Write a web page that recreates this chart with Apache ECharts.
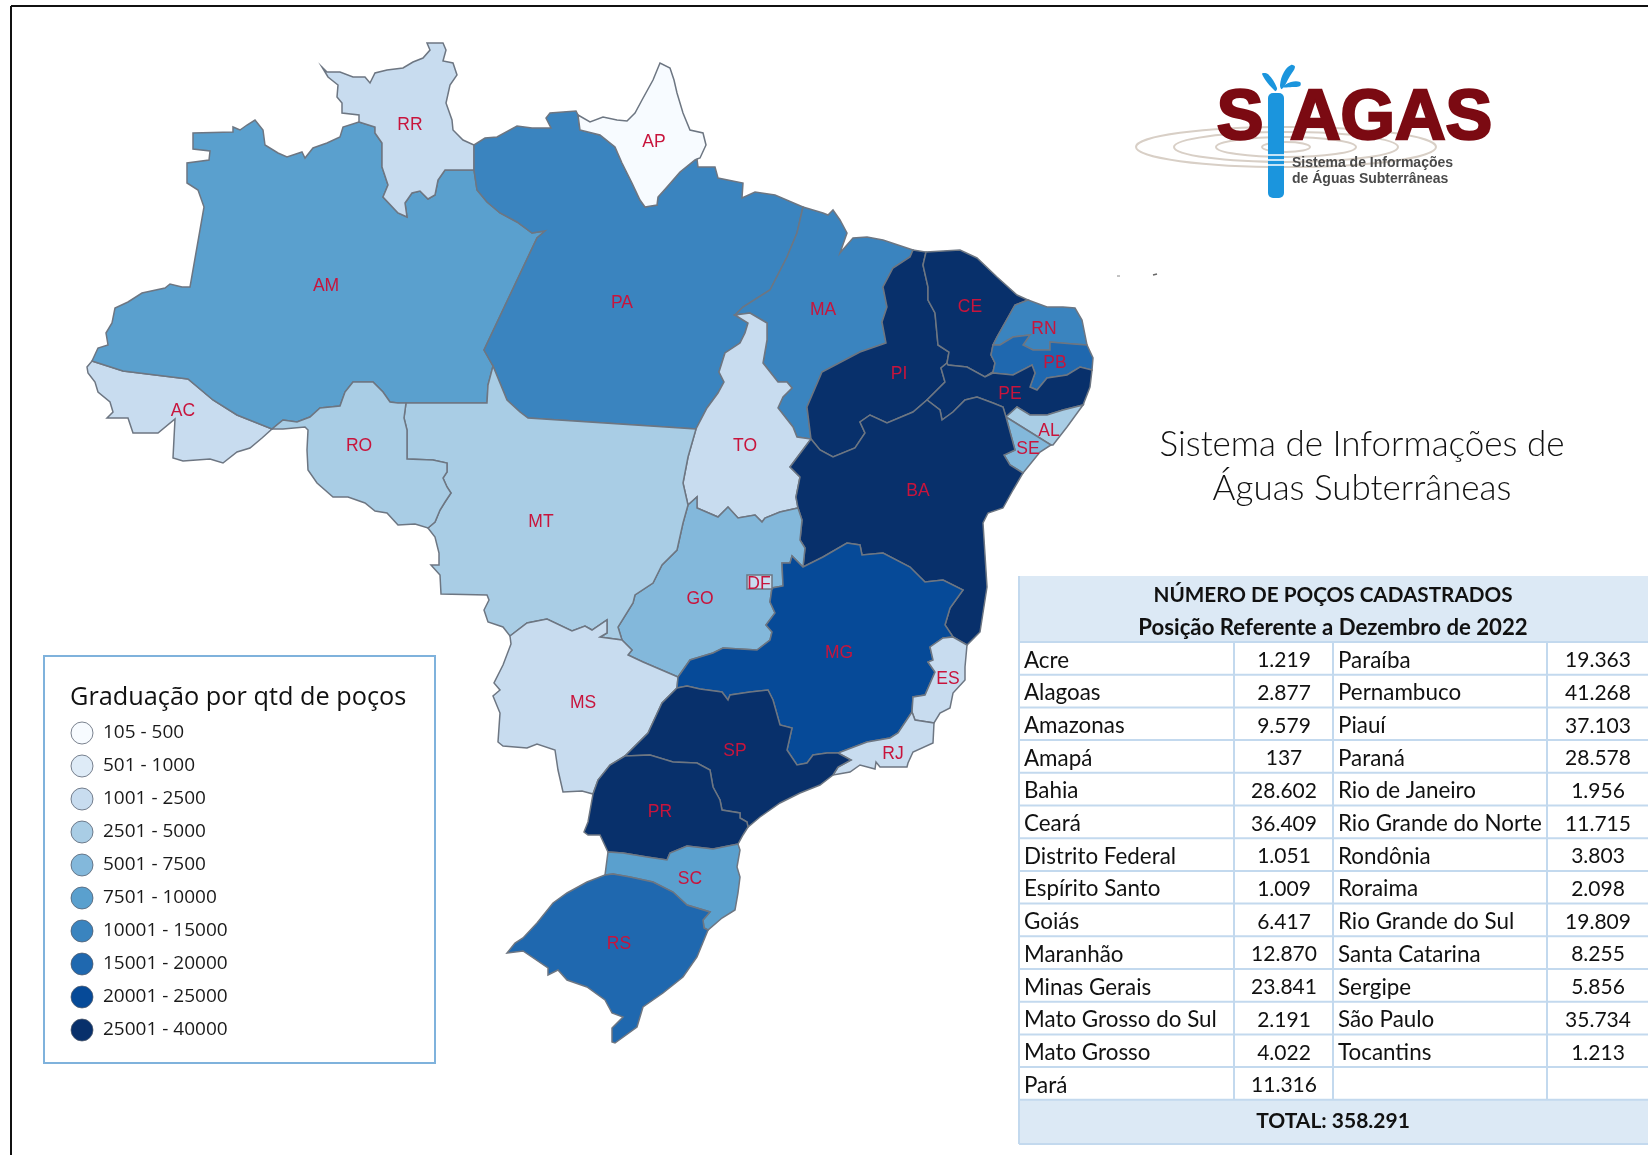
<!DOCTYPE html>
<html lang="pt-BR">
<head>
<meta charset="utf-8">
<title>Sistema de Informações de Águas Subterrâneas</title>
<script src="https://cdn.jsdelivr.net/npm/echarts@6/dist/echarts.min.js"></script>
<style>
  html, body { margin: 0; padding: 0; background: #fff; }
  #chart { width: 1648px; height: 1155px; }
</style>
</head>
<body>
<div id="chart"></div>
<script>
// table order, same as the picture
const stateNames = ['Acre', 'Alagoas', 'Amazonas', 'Amapá', 'Bahia', 'Ceará', 'Distrito Federal', 'Espírito Santo', 'Goiás', 'Maranhão', 'Minas Gerais', 'Mato Grosso do Sul', 'Mato Grosso', 'Pará',
  'Paraíba', 'Pernambuco', 'Piauí', 'Paraná', 'Rio de Janeiro', 'Rio Grande do Norte', 'Rondônia', 'Roraima', 'Rio Grande do Sul', 'Santa Catarina', 'Sergipe', 'São Paulo', 'Tocantins']
const stateCodes = ['AC', 'AL', 'AM', 'AP', 'BA', 'CE', 'DF', 'ES', 'GO', 'MA', 'MG', 'MS', 'MT', 'PA',
  'PB', 'PE', 'PI', 'PR', 'RJ', 'RN', 'RO', 'RR', 'RS', 'SC', 'SE', 'SP', 'TO']
const wellCounts = [1219, 2877, 9579, 137, 28602, 36409, 1051, 1009, 6417, 12870, 23841, 2191, 4022, 11316,
  19363, 41268, 37103, 28578, 1956, 11715, 3803, 2098, 19809, 8255, 5856, 35734, 1213]
const totalLabel = 'TOTAL: 358.291'

// legend classes
const classLabels = ['105 - 500', '501 - 1000', '1001 - 2500', '2501 - 5000', '5001 - 7500', '7501 - 10000', '10001 - 15000', '15001 - 20000', '20001 - 25000', '25001 - 40000']
const classMins = [105, 501, 1001, 2501, 5001, 7501, 10001, 15001, 20001, 25001]
const classMaxs = [500, 1000, 2500, 5000, 7500, 10000, 15000, 20000, 25000, Infinity] // PE passes 40000 and is still drawn dark
const classColors = ['#f7fbff', '#deebf7', '#c8dcef', '#a9cde5', '#83b8db', '#5aa0ce', '#3a84bf', '#1f68af', '#064a98', '#08306b']

// state borders, in page pixels. Each one is shared by its two neighbours
const borders = {
  ac_am: [[92,361],[123,371],[188,379],[213,400],[237,415],[272,429]],
  ac_out: [[92,361],[87,367],[88,373],[95,382],[98,392],[110,402],[113,412],[107,418],[128,418],[133,433],[158,433],[175,419],[173,458],[183,461],[210,459],[223,463],[237,452],[250,448],[262,438],[272,429]],
  am_north: [[359,122],[343,127],[340,137],[327,143],[313,148],[305,158],[302,152],[287,157],[278,153],[265,145],[263,130],[255,120],[247,125],[240,130],[233,127],[233,132],[193,133],[193,149],[210,151],[209,160],[187,163],[187,183],[198,190],[204,207],[190,287],[182,287],[170,284],[165,288],[142,293],[128,302],[115,308],[112,323],[106,333],[108,345],[98,348],[92,361]],
  am_ro: [[272,429],[283,420],[297,422],[310,417],[320,408],[340,406],[345,392],[353,382],[373,382],[383,392],[390,402],[398,403],[406,403]],
  am_mt: [[406,403],[487,403],[488,385],[493,366]],
  am_pa: [[493,366],[484,350],[537,238],[545,231],[532,233],[517,222],[500,213],[487,202],[477,190],[474,170]],
  am_rr: [[474,170],[445,170],[438,180],[435,195],[428,199],[420,191],[412,193],[405,203],[407,217],[398,213],[383,197],[388,185],[382,167],[382,143],[375,133],[375,127],[359,122]],
  rr_out: [[359,122],[359,115],[342,113],[342,103],[337,97],[338,85],[328,77],[322,67],[327,72],[340,72],[353,77],[365,77],[370,83],[375,73],[387,70],[403,68],[413,62],[423,58],[430,50],[427,43],[443,43],[446,50],[443,61],[453,63],[457,75],[450,85],[446,103],[452,120],[453,130],[463,140],[474,145]],
  rr_pa: [[474,145],[474,170]],
  pa_north: [[474,145],[485,138],[497,137],[517,126],[532,128],[551,128],[546,118],[550,113],[576,111],[578,115]],
  ap_pa: [[578,115],[580,130],[600,135],[615,147],[622,163],[632,183],[640,200],[645,207],[657,205],[658,197],[667,187],[680,172],[695,160],[697,159]],
  ap_out: [[578,115],[590,122],[603,117],[617,120],[627,121],[635,113],[642,100],[653,80],[660,63],[670,68],[674,80],[677,93],[683,113],[690,130],[703,133],[706,145],[700,158],[697,159]],
  pa_coast: [[697,159],[698,167],[715,167],[718,178],[743,183],[742,198],[755,192],[775,195],[803,207]],
  pa_ma: [[803,207],[797,233],[787,257],[770,290],[743,307],[735,315]],
  pa_to: [[735,315],[748,323],[745,333],[740,343],[725,353],[719,372],[724,382],[718,393],[707,408],[696,429]],
  pa_mt: [[696,429],[528,418],[520,412],[507,400],[493,366]],
  ma_coast: [[803,207],[823,213],[828,215],[833,210],[840,220],[847,233],[840,253],[853,238],[867,237],[883,240],[913,250]],
  ma_pi: [[913,250],[910,257],[893,268],[883,287],[887,307],[882,322],[886,343],[860,352],[822,372],[807,407],[811,439]],
  ma_to: [[811,439],[797,437],[793,427],[778,408],[783,397],[792,388],[787,382],[778,382],[763,363],[767,340],[767,323],[750,313],[735,315]],
  to_mt: [[696,429],[688,457],[683,483],[688,505]],
  go_to: [[688,505],[697,497],[697,508],[718,517],[728,507],[738,518],[755,515],[762,522],[765,518],[780,512],[798,508]],
  to_ba: [[798,508],[796,497],[800,477],[790,467],[811,439]],
  pi_coast: [[913,250],[926,252]],
  pi_ce: [[926,252],[923,265],[928,287],[928,300],[935,313],[938,345],[949,352],[947,363]],
  pi_pe: [[947,363],[941,368],[945,382],[927,400]],
  ba_pi: [[927,400],[913,412],[887,423],[870,415],[860,422],[865,433],[855,448],[833,457],[820,450],[811,439]],
  ce_coast: [[926,252],[960,250],[977,258],[997,277],[1017,295],[1028,300]],
  ce_rn: [[1028,300],[1015,305],[997,337],[993,345]],
  ce_pb: [[993,345],[991,355],[995,363],[993,372],[985,377]],
  ce_pe: [[985,377],[967,367],[948,365],[947,363]],
  rn_coast: [[1028,300],[1047,307],[1063,307],[1075,308],[1082,320],[1087,345]],
  rn_pb: [[1087,345],[1073,344],[1050,342],[1050,350],[1033,350],[1023,345],[1030,335],[1013,337],[1000,345],[993,345]],
  pb_coast: [[1087,345],[1093,358],[1092,370]],
  pb_pe: [[1092,370],[1080,367],[1067,375],[1047,378],[1037,390],[1030,387],[1035,373],[1032,365],[1013,375],[993,373],[985,377]],
  pe_coast: [[1092,370],[1090,387],[1083,405]],
  pe_al: [[1083,405],[1063,410],[1047,415],[1030,415],[1017,407],[1006,417]],
  pe_ba: [[1006,417],[1003,407],[993,403],[977,397],[965,400],[953,412],[942,420],[940,410],[927,400]],
  al_coast: [[1083,405],[1067,427],[1053,445],[1051,445]],
  al_se: [[1006,417],[1051,445]],
  se_coast: [[1051,445],[1040,452],[1023,473]],
  se_ba: [[1023,473],[1010,465],[1004,455],[1015,450],[1006,417]],
  ba_coast: [[1023,473],[1013,490],[1003,508],[988,513],[983,523],[987,587],[980,632],[967,645]],
  ba_es: [[967,645],[953,637]],
  ba_mg: [[953,637],[945,625],[950,608],[963,590],[943,580],[925,582],[910,567],[883,553],[862,555],[860,545],[847,543],[823,557],[803,567]],
  ba_go: [[803,567],[805,548],[800,540],[802,520],[798,508]],
  go_mg: [[678,677],[690,660],[713,653],[723,648],[757,650],[770,640],[772,632],[766,625],[775,613],[770,602],[772,588],[783,586],[782,563],[790,563],[792,556],[803,567]],
  go_ms: [[678,677],[643,662],[628,655],[632,650],[622,640]],
  go_mt: [[622,640],[618,627],[633,603],[635,595],[653,583],[662,565],[677,550],[683,523],[688,505]],
  mt_ms: [[622,640],[600,637],[607,633],[607,620],[592,630],[585,626],[572,631],[547,619],[527,623],[510,636]],
  mt_west: [[510,636],[503,627],[488,622],[484,610],[489,600],[487,595],[441,594],[440,575],[431,565],[439,565],[439,553],[435,537],[428,528]],
  ro_mt: [[406,403],[404,418],[407,430],[407,459],[433,460],[447,463],[447,472],[443,478],[447,487],[451,493],[445,502],[440,510],[435,522],[428,528]],
  ro_south: [[428,528],[415,524],[398,525],[387,513],[375,511],[365,503],[348,497],[333,497],[317,483],[308,470],[307,450],[308,430],[305,427],[283,429],[272,429]],
  mg_ms: [[678,677],[677,688]],
  sp_ms: [[677,688],[662,703],[648,733],[625,756]],
  ms_pr: [[625,756],[610,765],[598,780],[593,794]],
  ms_west: [[593,794],[582,791],[563,792],[558,770],[555,750],[537,744],[527,748],[503,746],[498,742],[500,713],[493,696],[500,690],[494,683],[503,665],[511,644],[510,636]],
  mg_es: [[953,637],[943,638],[930,647],[933,660],[928,662],[935,672],[925,695],[913,697],[912,712]],
  mg_rj: [[912,712],[898,733],[890,738],[867,742],[838,753]],
  mg_sp: [[838,753],[827,753],[813,755],[807,763],[797,765],[787,750],[792,728],[780,725],[773,700],[768,690],[750,692],[730,695],[728,700],[722,692],[700,689],[687,686],[677,688]],
  es_coast: [[967,645],[965,667],[965,680],[953,693],[950,708],[940,713],[934,723]],
  es_rj: [[912,712],[915,720],[934,723]],
  rj_coast: [[934,723],[933,743],[913,752],[908,763],[907,767],[880,767],[876,762],[875,769],[860,765],[850,772],[833,775]],
  rj_sp: [[833,775],[838,767],[851,760],[838,753]],
  sp_coast: [[833,775],[820,785],[800,793],[780,803],[760,817],[748,827]],
  sp_pr: [[748,827],[747,822],[740,818],[740,813],[722,810],[720,800],[713,787],[710,770],[697,763],[673,762],[650,755],[625,756]],
  pr_coast: [[748,827],[743,835],[738,844]],
  pr_sc: [[738,844],[713,849],[687,846],[670,853],[667,860],[647,857],[623,853],[608,852]],
  pr_west: [[608,852],[600,835],[588,835],[584,832],[588,822],[593,794]],
  sc_coast: [[738,844],[740,850],[737,867],[740,877],[738,893],[735,910],[722,918],[708,930]],
  sc_rs: [[708,930],[704,928],[703,920],[710,912],[687,905],[673,892],[653,882],[630,877],[613,874],[605,875]],
  sc_west: [[605,875],[608,852]],
  rs_out: [[708,930],[697,957],[683,977],[663,993],[643,1007],[637,1027],[615,1043],[612,1042],[612,1028],[623,1017],[612,1013],[605,1000],[587,987],[567,980],[558,970],[548,975],[548,968],[523,951],[507,953],[515,943],[523,938],[537,923],[553,903],[567,893],[587,882],[605,875]],
  df: [[747,575],[772,575],[772,589],[747,589],[747,575]]
}

// '-' walks a border backwards
const stateRings = {
  AC: ['ac_am', '-ac_out'],
  AM: ['am_north', 'ac_am', 'am_ro', 'am_mt', 'am_pa', 'am_rr'],
  RR: ['rr_out', 'rr_pa', 'am_rr'],
  PA: ['pa_north', 'ap_pa', 'pa_coast', 'pa_ma', 'pa_to', 'pa_mt', 'am_pa', '-rr_pa'],
  AP: ['ap_out', '-ap_pa'],
  MA: ['ma_coast', 'ma_pi', 'ma_to', '-pa_ma'],
  TO: ['pa_to', 'to_mt', 'go_to', 'to_ba', 'ma_to'],
  PI: ['pi_coast', 'pi_ce', 'pi_pe', 'ba_pi', '-ma_pi'],
  CE: ['ce_coast', 'ce_rn', 'ce_pb', 'ce_pe', '-pi_ce'],
  RN: ['rn_coast', 'rn_pb', '-ce_rn'],
  PB: ['-rn_pb', 'pb_coast', 'pb_pe', '-ce_pb'],
  PE: ['-ce_pe', '-pb_pe', 'pe_coast', 'pe_al', 'pe_ba', '-pi_pe'],
  AL: ['al_coast', '-al_se', '-pe_al'],
  SE: ['al_se', 'se_coast', 'se_ba'],
  BA: ['-pe_ba', '-se_ba', 'ba_coast', 'ba_es', 'ba_mg', 'ba_go', 'to_ba', '-ba_pi'],
  GO: ['go_to', '-ba_go', '-go_mg', 'go_ms', 'go_mt'],
  MT: ['am_mt', '-pa_mt', 'to_mt', '-go_mt', 'mt_ms', 'mt_west', '-ro_mt'],
  RO: ['am_ro', 'ro_mt', 'ro_south'],
  MS: ['-go_ms', 'mg_ms', 'sp_ms', 'ms_pr', 'ms_west', '-mt_ms'],
  MG: ['-ba_mg', 'mg_es', 'mg_rj', 'mg_sp', '-mg_ms', 'go_mg'],
  ES: ['-ba_es', 'es_coast', '-es_rj', '-mg_es'],
  RJ: ['es_rj', 'rj_coast', 'rj_sp', '-mg_rj'],
  SP: ['-rj_sp', 'sp_coast', 'sp_pr', '-sp_ms', '-mg_sp'],
  PR: ['-sp_pr', 'pr_coast', 'pr_sc', 'pr_west', '-ms_pr'],
  SC: ['-pr_sc', 'sc_coast', 'sc_rs', 'sc_west'],
  RS: ['-sc_rs', 'rs_out'],
  DF: ['df']
}

// where each state's label sits
const labelPoints = {
  AC: [183,409], AL: [1049,429], AM: [326,284], AP: [654,140], BA: [918,489], CE: [970,305], DF: [759,582], ES: [948,677], GO: [700,597],
  MA: [823,308], MG: [839,651], MS: [583,701], MT: [541,520], PA: [622,301], PB: [1055,361], PE: [1010,392], PI: [899,372], PR: [660,810],
  RJ: [893,752], RN: [1044,327], RO: [359,444], RR: [410,123], RS: [619,942], SC: [690,877], SE: [1028,447], SP: [735,749], TO: [745,444]
}

const buildRing = (parts) => {
  const ring = []
  parts.forEach((part) => {
    const back = part[0] === '-'
    const pts = borders[back ? part.slice(1) : part]
    ring.push(...(back ? pts.slice().reverse() : pts))
  })
  return ring
}

const brazil = {
  type: 'FeatureCollection',
  features: Object.keys(stateRings).map((code) => ({
    type: 'Feature',
    properties: { name: code, cp: labelPoints[code] },
    geometry: { type: 'Polygon', coordinates: [buildRing(stateRings[code])] }
  }))
}
echarts.registerMap('brazil', brazil)

const formatWells = (v) => String(v).replace(/\B(?=(\d{3})+$)/g, '.')

const lineEl = (x1, y1, x2, y2, stroke, lineWidth) => ({
  type: 'line', silent: true, z: 5,
  shape: { x1, y1, x2, y2 },
  style: { stroke, lineWidth }
})
const rectEl = (x, y, width, height, fill) => ({
  type: 'rect', silent: true, z: 4,
  shape: { x, y, width, height },
  style: { fill }
})
const textEl = (text, x, y, font, fill, align) => ({
  type: 'text', silent: true, z: 6, x, y,
  style: { text, font, fill: fill || '#111', textAlign: align || 'left', textVerticalAlign: 'middle' }
})

// page frame, only top and left show in the picture
const frameEls = () => [
  lineEl(11, 6, 1648, 6, '#111', 2),
  lineEl(11, 6, 11, 1155, '#111', 2)
]

const titleEls = () => [
  textEl('Sistema de Informações de', 1362, 445, '300 35px Lato', '#111', 'center'),
  textEl('Águas Subterrâneas', 1362, 489, '300 35px Lato', '#111', 'center')
]

const legendEls = () => {
  const els = [
    { type: 'rect', silent: true, z: 1, shape: { x: 44, y: 656, width: 391, height: 407 }, style: { fill: 'none', stroke: '#7fb2dc', lineWidth: 2 } },
    textEl('Graduação por qtd de poços', 70, 698, '25.3px "Open Sans"', '#111')
  ]
  // the visualMap has no symbol border, so the thin rings go on top of it
  classLabels.forEach((label, i) => {
    els.push({
      type: 'circle', silent: true, z: 20,
      shape: { cx: 82, cy: 733 + i * 33, r: 11 },
      style: { fill: 'none', stroke: 'rgba(80,90,105,0.75)', lineWidth: 1 }
    })
  })
  return els
}

const tableEls = () => {
  const left = 1019, right = 1648
  const colX = [1234, 1333, 1547]
  const headTop = 576, bodyTop = 642, rowH = 32.7, rows = 14
  const bodyBottom = bodyTop + rows * rowH
  const lineColor = '#c3d9ee'
  const els = [
    rectEl(left, headTop, right - left, bodyTop - headTop, '#dce9f5'),
    rectEl(left, bodyBottom, right - left, 1144 - bodyBottom, '#dce9f5'),
    textEl('NÚMERO DE POÇOS CADASTRADOS', 1333, 595, 'bold 20.7px Lato', '#111', 'center'),
    textEl('Posição Referente a Dezembro de 2022', 1333, 628, 'bold 22.2px Lato', '#111', 'center'),
    textEl(totalLabel, 1333, 1121, 'bold 21px Lato', '#111', 'center')
  ]
  for (let r = 0; r <= rows; r++) {
    els.push(lineEl(left, bodyTop + r * rowH, right, bodyTop + r * rowH, lineColor, 2))
  }
  colX.forEach((x) => els.push(lineEl(x, bodyTop, x, bodyBottom, lineColor, 2)))
  els.push(lineEl(left, headTop, left, 1144, lineColor, 2))
  els.push(lineEl(left, 1144, right, 1144, lineColor, 2))

  stateNames.forEach((name, i) => {
    const second = i >= rows
    const y = bodyTop + ((second ? i - rows : i) + 0.5) * rowH + 2
    els.push(textEl(name, second ? 1338 : 1024, y, '22.4px Lato', '#111'))
    els.push(textEl(formatWells(wellCounts[i]), second ? 1598 : 1284, y, '21px Lato', '#111', 'center'))
  })
  return els
}

const logoEls = () => {
  const ringColor = '#d8cfc6'
  const blue = '#1b95dd'
  const red = '#7b0a12'
  const rings = [[150, 20], [112, 15], [70, 10], [24, 5]]
  const els = rings.map(([rx, ry]) => ({
    type: 'ellipse', silent: true, z: 2,
    shape: { cx: 1286, cy: 147, rx, ry },
    style: { fill: 'none', stroke: ringColor, lineWidth: 2 }
  }))
  const drops = [
    [[1262,74],[1268,74],[1277,88],[1275,91]],
    [[1291,65],[1295,67],[1290,76],[1282,89],[1280,85],[1284,72]],
    [[1283,87],[1291,82],[1300,82],[1300,86],[1292,87]]
  ]
  drops.forEach((points) => els.push({
    type: 'polygon', silent: true, z: 3,
    shape: { points, smooth: 0.4 },
    style: { fill: blue }
  }))
  els.push({ type: 'text', silent: true, z: 3, x: 1240, y: 120, style: { text: 'S', font: 'bold 70px "Liberation Sans"', fill: red, stroke: red, lineWidth: 2.5, textAlign: 'center', textVerticalAlign: 'middle' } })
  els.push({ type: 'text', silent: true, z: 3, x: 1391, y: 120, style: { text: 'AGAS', font: 'bold 70px "Liberation Sans"', fill: red, stroke: red, lineWidth: 2.5, textAlign: 'center', textVerticalAlign: 'middle' } })
  els.push({ type: 'rect', silent: true, z: 4, shape: { x: 1268, y: 93, width: 16, height: 105, r: 5 }, style: { fill: blue } })
  ;[155, 160, 165].forEach((y) => els.push(lineEl(1268, y, 1284, y, '#fff', 1.5)))
  els.push(textEl('Sistema de Informações', 1292, 163, 'bold 14px "Liberation Sans"', '#4a4a4a'))
  els.push(textEl('de Águas Subterrâneas', 1292, 179, 'bold 14px "Liberation Sans"', '#4a4a4a'))
  // two stray specks right of the map
  els.push(lineEl(1117, 276, 1120, 276, '#888', 1))
  els.push(lineEl(1153, 275, 1157, 274, '#666', 1.5))
  return els
}

const chart = echarts.init(document.getElementById('chart'))

chart.setOption({
  animation: false,
  backgroundColor: '#fff',
  visualMap: {
    type: 'piecewise',
    seriesIndex: 0,
    left: 71,
    top: 722,
    padding: 0,
    orient: 'vertical',
    inverse: true,
    itemWidth: 22,
    itemHeight: 22,
    itemGap: 11,
    itemSymbol: 'circle',
    textGap: 10,
    align: 'left',
    selectedMode: false,
    hoverLink: false,
    textStyle: { color: '#1a1a1a', fontFamily: 'Open Sans', fontSize: 19 },
    pieces: classLabels.map((label, i) => ({ min: classMins[i], max: classMaxs[i], label, color: classColors[i] }))
  },
  series: [
    {
      type: 'map',
      map: 'brazil',
      projection: { project: (p) => p, unproject: (p) => p },
      boundingCoords: [[0, 0], [1648, 1155]],
      left: 0,
      top: 0,
      width: 1648,
      height: 1155,
      roam: false,
      silent: true,
      selectedMode: false,
      label: { show: true, color: '#c8143c', fontFamily: 'Liberation Sans', fontSize: 17.5, offset: [0, 2] },
      itemStyle: { borderColor: '#6d7682', borderWidth: 1.5 },
      emphasis: { disabled: true },
      data: stateCodes.map((code, i) => ({ name: code, value: wellCounts[i] }))
    }
  ],
  graphic: { elements: [...frameEls(), ...titleEls(), ...legendEls(), ...tableEls(), ...logoEls()] }
})

window.addEventListener('resize', () => chart.resize())
</script>
</body>
</html>
